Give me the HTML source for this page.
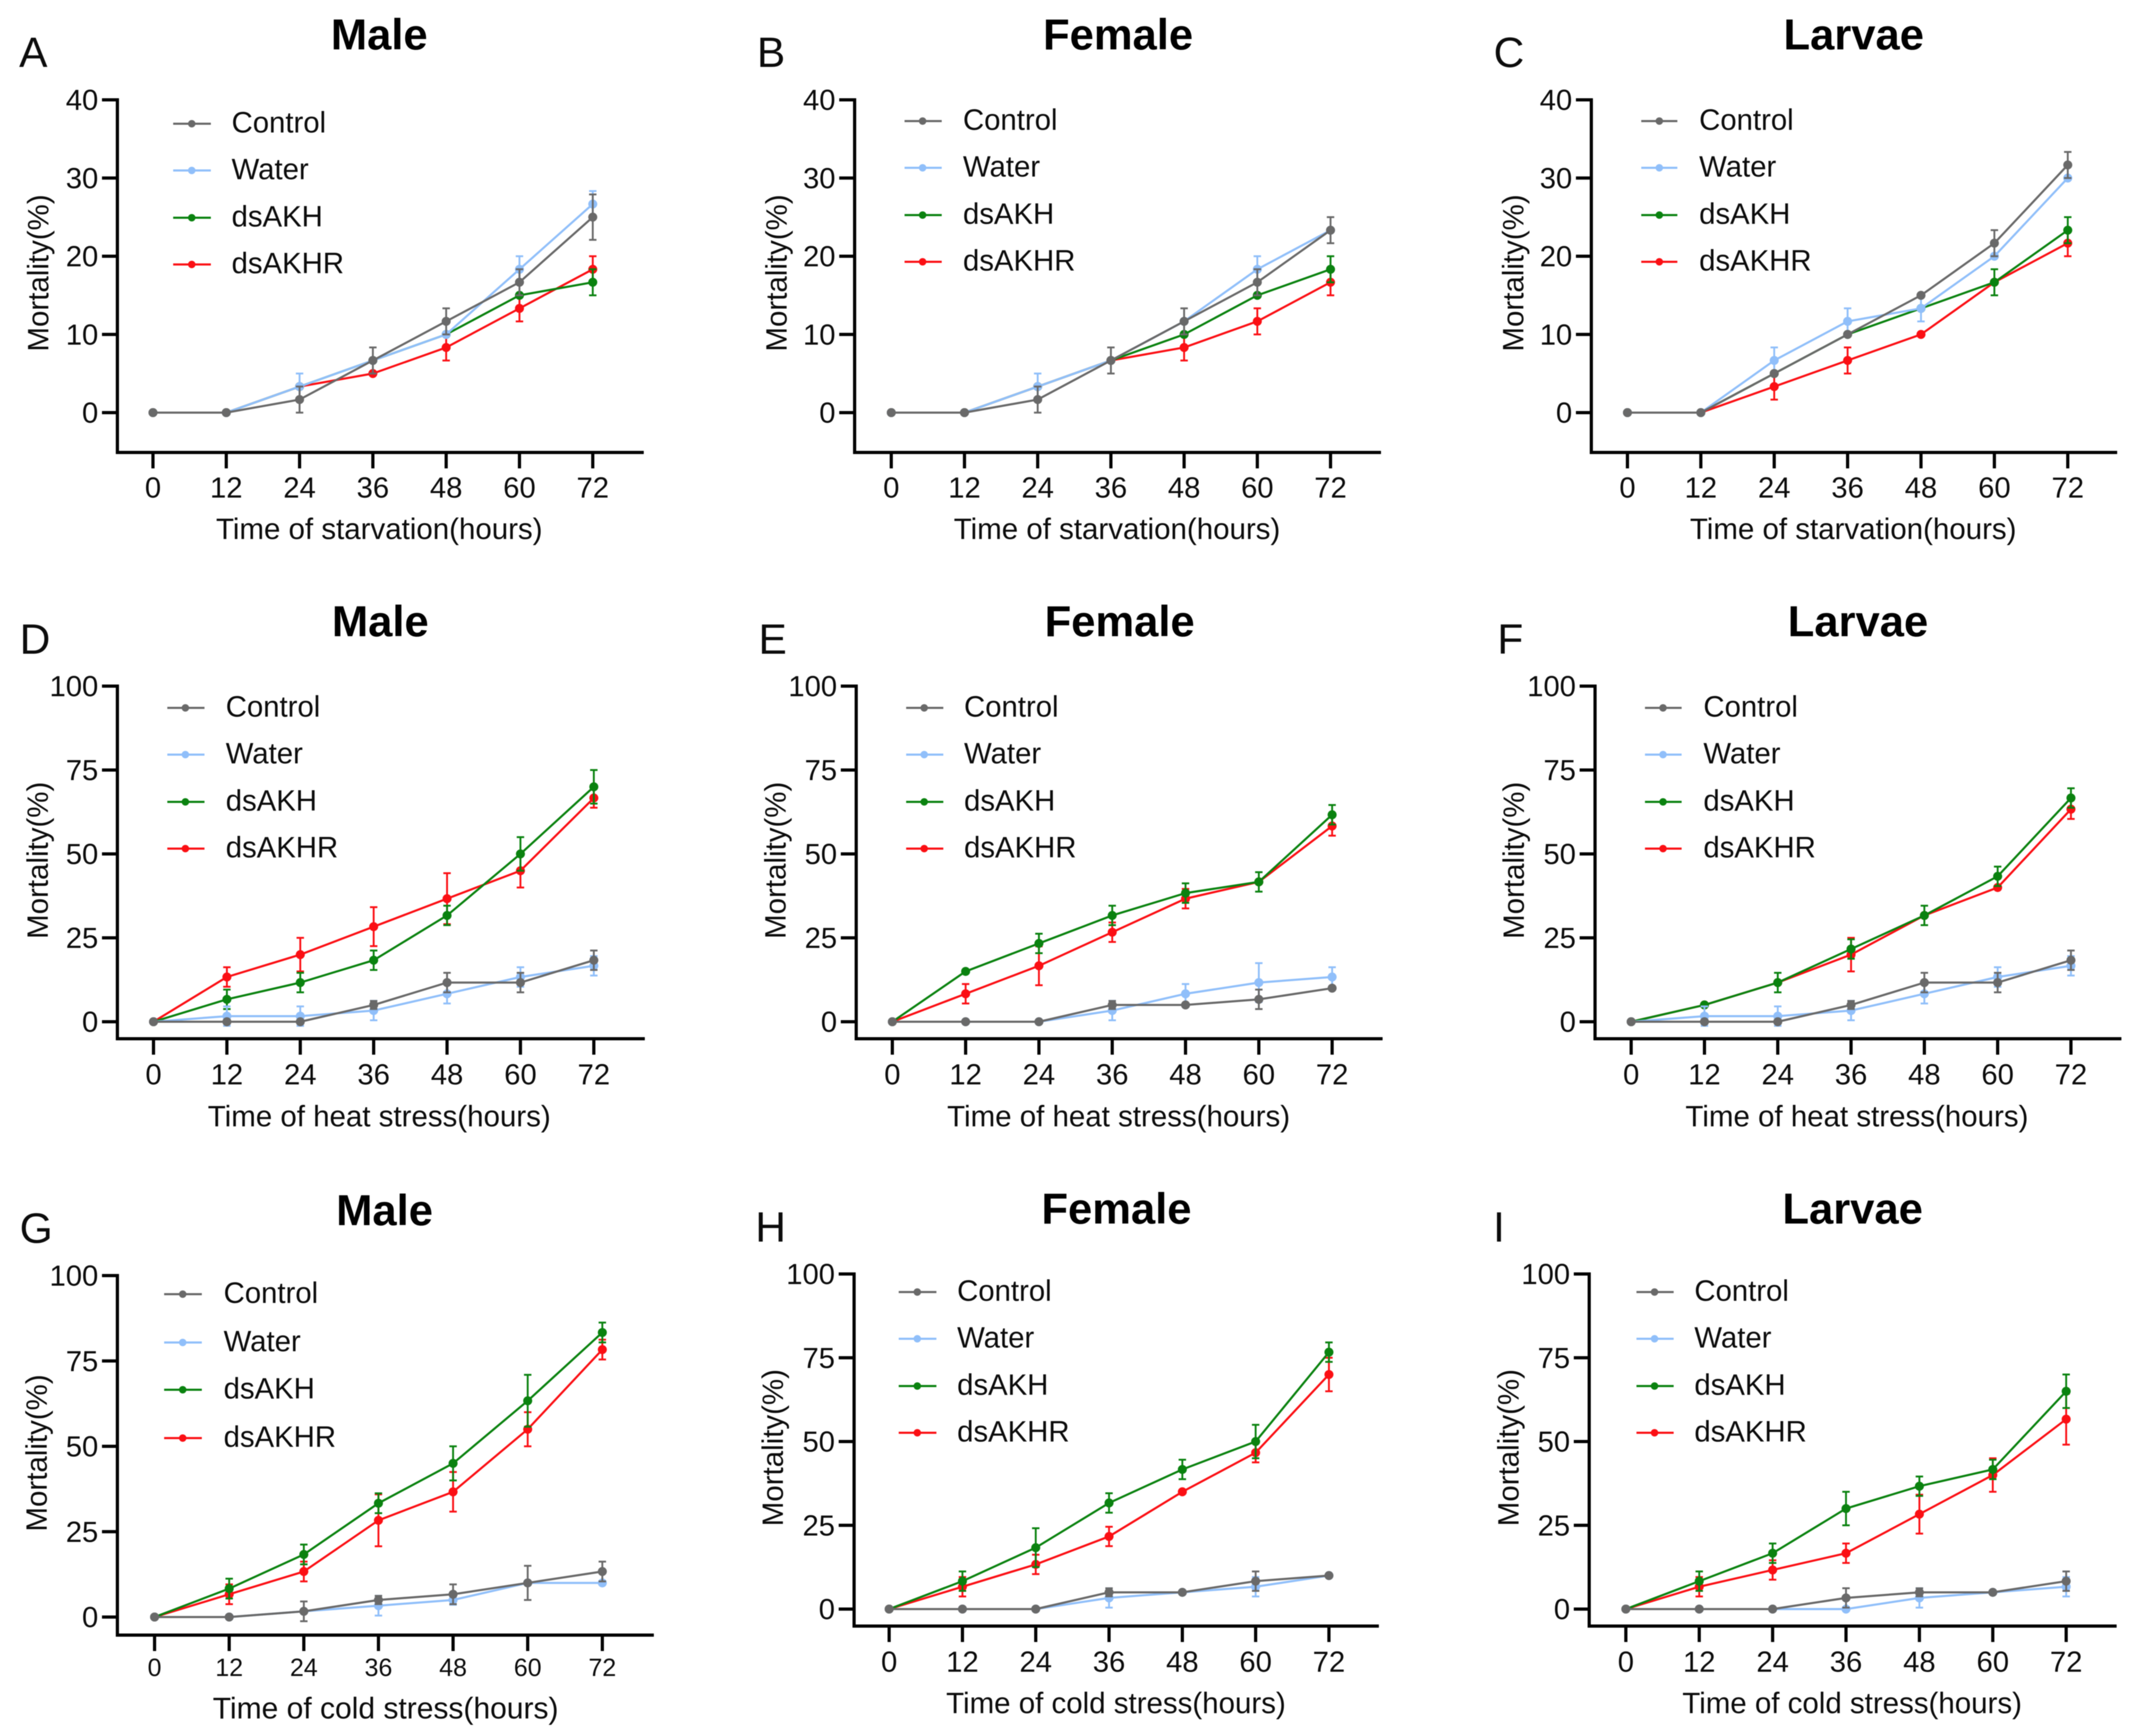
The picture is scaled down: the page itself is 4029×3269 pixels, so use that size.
<!DOCTYPE html>
<html lang="en">
<head>
<meta charset="utf-8">
<title>Mortality of treatment groups under starvation, heat and cold stress</title>
<style>
html,body{margin:0;padding:0;background:#fff;}
svg{display:block;filter:blur(0.8px);}
text{font-family:"Liberation Sans",Arial,sans-serif;fill:#0c0c0c;}
.ttl{font-size:82px;font-weight:700;text-anchor:middle;fill:#000;}
.ltr{font-size:80px;}
.at{font-size:55.5px;text-anchor:middle;}
.lg{font-size:55.2px;transform:translateY(-2.5px);}
.ls{stroke-width:4;}
</style>
</head>
<body>
<svg id="figure" xmlns="http://www.w3.org/2000/svg" width="4029" height="3269" viewBox="0 0 4029 3269">
<rect width="4029" height="3269" fill="#fff"/>

<g id="panel-A">
<text class="ltr" x="36" y="126">A</text>
<text class="ttl" x="714" y="93">Male</text>
<text class="at" x="714" y="1015">Time of starvation(hours)</text>
<text class="at" transform="translate(91,514) rotate(-90)">Mortality(%)</text>
<g><line class="ls" x1="326" x2="397" y1="233" y2="233" stroke="#696969"/><circle cx="361" cy="233" r="7" fill="#696969"/><text class="lg" x="436" y="252">Control</text></g>
<g><line class="ls" x1="326" x2="397" y1="321" y2="321" stroke="#90bffa"/><circle cx="361" cy="321" r="7" fill="#90bffa"/><text class="lg" x="436" y="340">Water</text></g>
<g><line class="ls" x1="326" x2="397" y1="410" y2="410" stroke="#0a820f"/><circle cx="361" cy="410" r="7" fill="#0a820f"/><text class="lg" x="436" y="429">dsAKH</text></g>
<g><line class="ls" x1="326" x2="397" y1="498" y2="498" stroke="#fb0f14"/><circle cx="361" cy="498" r="7" fill="#fb0f14"/><text class="lg" x="436" y="517">dsAKHR</text></g>
</g>

<g id="panel-B">
<text class="ltr" x="1425" y="126">B</text>
<text class="ttl" x="2105" y="93">Female</text>
<text class="at" x="2103" y="1015">Time of starvation(hours)</text>
<text class="at" transform="translate(1481,514) rotate(-90)">Mortality(%)</text>
<g><line class="ls" x1="1703" x2="1773" y1="228" y2="228" stroke="#696969"/><circle cx="1737" cy="228" r="7" fill="#696969"/><text class="lg" x="1813" y="247">Control</text></g>
<g><line class="ls" x1="1703" x2="1773" y1="316" y2="316" stroke="#90bffa"/><circle cx="1737" cy="316" r="7" fill="#90bffa"/><text class="lg" x="1813" y="335">Water</text></g>
<g><line class="ls" x1="1703" x2="1773" y1="405" y2="405" stroke="#0a820f"/><circle cx="1737" cy="405" r="7" fill="#0a820f"/><text class="lg" x="1813" y="424">dsAKH</text></g>
<g><line class="ls" x1="1703" x2="1773" y1="493" y2="493" stroke="#fb0f14"/><circle cx="1737" cy="493" r="7" fill="#fb0f14"/><text class="lg" x="1813" y="512">dsAKHR</text></g>
</g>

<g id="panel-C">
<text class="ltr" x="2812" y="126">C</text>
<text class="ttl" x="3490" y="93">Larvae</text>
<text class="at" x="3489" y="1015">Time of starvation(hours)</text>
<text class="at" transform="translate(2868,514) rotate(-90)">Mortality(%)</text>
<g><line class="ls" x1="3090" x2="3158" y1="228" y2="228" stroke="#696969"/><circle cx="3124" cy="228" r="7" fill="#696969"/><text class="lg" x="3199" y="247">Control</text></g>
<g><line class="ls" x1="3090" x2="3158" y1="316" y2="316" stroke="#90bffa"/><circle cx="3124" cy="316" r="7" fill="#90bffa"/><text class="lg" x="3199" y="335">Water</text></g>
<g><line class="ls" x1="3090" x2="3158" y1="405" y2="405" stroke="#0a820f"/><circle cx="3124" cy="405" r="7" fill="#0a820f"/><text class="lg" x="3199" y="424">dsAKH</text></g>
<g><line class="ls" x1="3090" x2="3158" y1="493" y2="493" stroke="#fb0f14"/><circle cx="3124" cy="493" r="7" fill="#fb0f14"/><text class="lg" x="3199" y="512">dsAKHR</text></g>
</g>

<g id="panel-D">
<text class="ltr" x="37" y="1231">D</text>
<text class="ttl" x="716" y="1198">Male</text>
<text class="at" x="714" y="2121">Time of heat stress(hours)</text>
<text class="at" transform="translate(90,1620) rotate(-90)">Mortality(%)</text>
<g><line class="ls" x1="315" x2="385" y1="1333" y2="1333" stroke="#696969"/><circle cx="349" cy="1333" r="7" fill="#696969"/><text class="lg" x="425" y="1352">Control</text></g>
<g><line class="ls" x1="315" x2="385" y1="1421" y2="1421" stroke="#90bffa"/><circle cx="349" cy="1421" r="7" fill="#90bffa"/><text class="lg" x="425" y="1440">Water</text></g>
<g><line class="ls" x1="315" x2="385" y1="1510" y2="1510" stroke="#0a820f"/><circle cx="349" cy="1510" r="7" fill="#0a820f"/><text class="lg" x="425" y="1529">dsAKH</text></g>
<g><line class="ls" x1="315" x2="385" y1="1598" y2="1598" stroke="#fb0f14"/><circle cx="349" cy="1598" r="7" fill="#fb0f14"/><text class="lg" x="425" y="1617">dsAKHR</text></g>
</g>

<g id="panel-E">
<text class="ltr" x="1428" y="1231">E</text>
<text class="ttl" x="2108" y="1198">Female</text>
<text class="at" x="2106" y="2121">Time of heat stress(hours)</text>
<text class="at" transform="translate(1479,1620) rotate(-90)">Mortality(%)</text>
<g><line class="ls" x1="1706" x2="1776" y1="1333" y2="1333" stroke="#696969"/><circle cx="1740" cy="1333" r="7" fill="#696969"/><text class="lg" x="1815" y="1352">Control</text></g>
<g><line class="ls" x1="1706" x2="1776" y1="1421" y2="1421" stroke="#90bffa"/><circle cx="1740" cy="1421" r="7" fill="#90bffa"/><text class="lg" x="1815" y="1440">Water</text></g>
<g><line class="ls" x1="1706" x2="1776" y1="1510" y2="1510" stroke="#0a820f"/><circle cx="1740" cy="1510" r="7" fill="#0a820f"/><text class="lg" x="1815" y="1529">dsAKH</text></g>
<g><line class="ls" x1="1706" x2="1776" y1="1598" y2="1598" stroke="#fb0f14"/><circle cx="1740" cy="1598" r="7" fill="#fb0f14"/><text class="lg" x="1815" y="1617">dsAKHR</text></g>
</g>

<g id="panel-F">
<text class="ltr" x="2819" y="1231">F</text>
<text class="ttl" x="3498" y="1198">Larvae</text>
<text class="at" x="3496" y="2121">Time of heat stress(hours)</text>
<text class="at" transform="translate(2869,1620) rotate(-90)">Mortality(%)</text>
<g><line class="ls" x1="3097" x2="3166" y1="1333" y2="1333" stroke="#696969"/><circle cx="3131" cy="1333" r="7" fill="#696969"/><text class="lg" x="3207" y="1352">Control</text></g>
<g><line class="ls" x1="3097" x2="3166" y1="1421" y2="1421" stroke="#90bffa"/><circle cx="3131" cy="1421" r="7" fill="#90bffa"/><text class="lg" x="3207" y="1440">Water</text></g>
<g><line class="ls" x1="3097" x2="3166" y1="1510" y2="1510" stroke="#0a820f"/><circle cx="3131" cy="1510" r="7" fill="#0a820f"/><text class="lg" x="3207" y="1529">dsAKH</text></g>
<g><line class="ls" x1="3097" x2="3166" y1="1598" y2="1598" stroke="#fb0f14"/><circle cx="3131" cy="1598" r="7" fill="#fb0f14"/><text class="lg" x="3207" y="1617">dsAKHR</text></g>
</g>

<g id="panel-G">
<text class="ltr" x="37" y="2340">G</text>
<text class="ttl" x="724" y="2307">Male</text>
<text class="at" style="font-size:56.5px" x="726" y="3236">Time of cold stress(hours)</text>
<text class="at" transform="translate(88,2736) rotate(-90)">Mortality(%)</text>
<g><line class="ls" x1="309" x2="380" y1="2437" y2="2437" stroke="#696969"/><circle cx="344" cy="2437" r="7" fill="#696969"/><text class="lg" x="421" y="2456">Control</text></g>
<g><line class="ls" x1="309" x2="380" y1="2528" y2="2528" stroke="#90bffa"/><circle cx="344" cy="2528" r="7" fill="#90bffa"/><text class="lg" x="421" y="2547">Water</text></g>
<g><line class="ls" x1="309" x2="380" y1="2617" y2="2617" stroke="#0a820f"/><circle cx="344" cy="2617" r="7" fill="#0a820f"/><text class="lg" x="421" y="2636">dsAKH</text></g>
<g><line class="ls" x1="309" x2="380" y1="2708" y2="2708" stroke="#fb0f14"/><circle cx="344" cy="2708" r="7" fill="#fb0f14"/><text class="lg" x="421" y="2727">dsAKHR</text></g>
</g>

<g id="panel-H">
<text class="ltr" x="1422" y="2338">H</text>
<text class="ttl" x="2102" y="2304">Female</text>
<text class="at" x="2101" y="3226">Time of cold stress(hours)</text>
<text class="at" transform="translate(1474,2726) rotate(-90)">Mortality(%)</text>
<g><line class="ls" x1="1692" x2="1763" y1="2433" y2="2433" stroke="#696969"/><circle cx="1727" cy="2433" r="7" fill="#696969"/><text class="lg" x="1802" y="2452">Control</text></g>
<g><line class="ls" x1="1692" x2="1763" y1="2521" y2="2521" stroke="#90bffa"/><circle cx="1727" cy="2521" r="7" fill="#90bffa"/><text class="lg" x="1802" y="2540">Water</text></g>
<g><line class="ls" x1="1692" x2="1763" y1="2610" y2="2610" stroke="#0a820f"/><circle cx="1727" cy="2610" r="7" fill="#0a820f"/><text class="lg" x="1802" y="2629">dsAKH</text></g>
<g><line class="ls" x1="1692" x2="1763" y1="2698" y2="2698" stroke="#fb0f14"/><circle cx="1727" cy="2698" r="7" fill="#fb0f14"/><text class="lg" x="1802" y="2717">dsAKHR</text></g>
</g>

<g id="panel-I">
<text class="ltr" x="2811" y="2338">I</text>
<text class="ttl" x="3488" y="2304">Larvae</text>
<text class="at" x="3487" y="3226">Time of cold stress(hours)</text>
<text class="at" transform="translate(2859,2726) rotate(-90)">Mortality(%)</text>
<g><line class="ls" x1="3081" x2="3151" y1="2433" y2="2433" stroke="#696969"/><circle cx="3115" cy="2433" r="7" fill="#696969"/><text class="lg" x="3190" y="2452">Control</text></g>
<g><line class="ls" x1="3081" x2="3151" y1="2521" y2="2521" stroke="#90bffa"/><circle cx="3115" cy="2521" r="7" fill="#90bffa"/><text class="lg" x="3190" y="2540">Water</text></g>
<g><line class="ls" x1="3081" x2="3151" y1="2610" y2="2610" stroke="#0a820f"/><circle cx="3115" cy="2610" r="7" fill="#0a820f"/><text class="lg" x="3190" y="2629">dsAKH</text></g>
<g><line class="ls" x1="3081" x2="3151" y1="2698" y2="2698" stroke="#fb0f14"/><circle cx="3115" cy="2698" r="7" fill="#fb0f14"/><text class="lg" x="3190" y="2717">dsAKHR</text></g>
</g>
</svg>

<script>
// Categories and tick labels
const hours = [0, 12, 24, 36, 48, 60, 72];
const starvationTicks = [0, 10, 20, 30, 40];
const stressTicks = [0, 25, 50, 75, 100];

// Panel A - Male, starvation
const aControl = [0, 0, 1.67, 6.67, 11.67, 16.67, 25];
const aControlErr = [0, 0, 1.67, 1.67, 1.67, 1.67, 2.9];
const aWater = [0, 0, 3.33, 6.67, 10, 18.33, 26.67];
const aWaterErr = [0, 0, 1.67, 0, 0, 1.67, 1.67];
const aAkh = [0, 0, 3.33, 6.67, 10, 15, 16.67];
const aAkhErr = [0, 0, 0, 0, 0, 0, 1.67];
const aAkhr = [0, 0, 3.33, 5, 8.33, 13.33, 18.33];
const aAkhrErr = [0, 0, 0, 0, 1.67, 1.67, 1.67];

// Panel B - Female, starvation
const bControl = [0, 0, 1.67, 6.67, 11.67, 16.67, 23.33];
const bControlErr = [0, 0, 1.67, 1.67, 1.67, 1.67, 1.67];
const bWater = [0, 0, 3.33, 6.67, 11.67, 18.33, 23.33];
const bWaterErr = [0, 0, 1.67, 0, 0, 1.67, 0];
const bAkh = [0, 0, 3.33, 6.67, 10, 15, 18.33];
const bAkhErr = [0, 0, 0, 0, 0, 0, 1.67];
const bAkhr = [0, 0, 3.33, 6.67, 8.33, 11.67, 16.67];
const bAkhrErr = [0, 0, 0, 0, 1.67, 1.67, 1.67];

// Panel C - Larvae, starvation
const cControl = [0, 0, 5, 10, 15, 21.67, 31.67];
const cControlErr = [0, 0, 0, 0, 0, 1.67, 1.67];
const cWater = [0, 0, 6.67, 11.67, 13.33, 20, 30];
const cWaterErr = [0, 0, 1.67, 1.67, 1.67, 0, 0];
const cAkh = [0, 0, 5, 10, 13.33, 16.67, 23.33];
const cAkhErr = [0, 0, 0, 0, 0, 1.67, 1.67];
const cAkhr = [0, 0, 3.33, 6.67, 10, 16.67, 21.67];
const cAkhrErr = [0, 0, 1.67, 1.67, 0, 0, 1.67];

// Panel D - Male, heat
const dControl = [0, 0, 0, 5, 11.67, 11.67, 18.33];
const dControlErr = [0, 0, 0, 1.2, 2.9, 2.9, 2.9];
const dWater = [0, 1.67, 1.67, 3.33, 8.33, 13.33, 16.67];
const dWaterErr = [0, 2.9, 2.9, 2.9, 2.9, 2.9, 2.9];
const dAkh = [0, 6.67, 11.67, 18.33, 31.67, 50, 70];
const dAkhErr = [0, 2.9, 2.9, 2.9, 2.9, 5, 5];
const dAkhr = [0, 13.33, 20, 28.33, 36.67, 45, 66.67];
const dAkhrErr = [0, 2.9, 5, 5.8, 7.6, 5, 2.9];

// Panel E - Female, heat
const eControl = [0, 0, 0, 5, 5, 6.67, 10];
const eControlErr = [0, 0, 0, 1.2, 0, 2.9, 0];
const eWater = [0, 0, 0, 3.33, 8.33, 11.67, 13.33];
const eWaterErr = [0, 0, 0, 2.9, 2.9, 5.8, 2.9];
const eAkh = [0, 15, 23.33, 31.67, 38.33, 41.67, 61.67];
const eAkhErr = [0, 0, 2.9, 2.9, 2.9, 2.9, 2.9];
const eAkhr = [0, 8.33, 16.67, 26.67, 36.67, 41.67, 58.33];
const eAkhrErr = [0, 2.9, 5.8, 2.9, 2.9, 0, 2.9];

// Panel F - Larvae, heat
const fControl = [0, 0, 0, 5, 11.67, 11.67, 18.33];
const fControlErr = [0, 0, 0, 1.2, 2.9, 2.9, 2.9];
const fWater = [0, 1.67, 1.67, 3.33, 8.33, 13.33, 16.67];
const fWaterErr = [0, 2.9, 2.9, 2.9, 2.9, 2.9, 2.9];
const fAkh = [0, 5, 11.67, 21.67, 31.67, 43.33, 66.67];
const fAkhErr = [0, 0, 2.9, 2.9, 2.9, 2.9, 2.9];
const fAkhr = [0, 5, 11.67, 20, 31.67, 40, 63.33];
const fAkhrErr = [0, 0, 0, 5, 0, 0, 2.9];

// Panel G - Male, cold
const gControl = [0, 0, 1.67, 5, 6.67, 10, 13.33];
const gControlErr = [0, 0, 2.9, 1.2, 2.9, 5, 2.9];
const gWater = [0, 0, 1.67, 3.33, 5, 10, 10];
const gWaterErr = [0, 0, 0, 2.9, 1.4, 0, 0];
const gAkh = [0, 8.33, 18.33, 33.33, 45, 63.33, 83.33];
const gAkhErr = [0, 2.9, 2.9, 2.9, 5, 7.6, 2.9];
const gAkhr = [0, 6.67, 13.33, 28.33, 36.67, 55, 78.33];
const gAkhrErr = [0, 2.9, 2.9, 7.6, 5.8, 5, 2.9];

// Panel H - Female, cold
const hControl = [0, 0, 0, 5, 5, 8.33, 10];
const hControlErr = [0, 0, 0, 1.2, 0, 2.9, 0];
const hWater = [0, 0, 0, 3.33, 5, 6.67, 10];
const hWaterErr = [0, 0, 0, 2.9, 0, 2.9, 0];
const hAkh = [0, 8.33, 18.33, 31.67, 41.67, 50, 76.67];
const hAkhErr = [0, 2.9, 5.8, 2.9, 2.9, 5, 2.9];
const hAkhr = [0, 6.67, 13.33, 21.67, 35, 46.67, 70];
const hAkhrErr = [0, 2.9, 2.9, 2.9, 0, 2.9, 5];

// Panel I - Larvae, cold
const iControl = [0, 0, 0, 3.33, 5, 5, 8.33];
const iControlErr = [0, 0, 0, 2.9, 1.2, 0, 2.9];
const iWater = [0, 0, 0, 0, 3.33, 5, 6.67];
const iWaterErr = [0, 0, 0, 0, 2.9, 0, 2.9];
const iAkh = [0, 8.33, 16.67, 30, 36.67, 41.67, 65];
const iAkhErr = [0, 2.9, 2.9, 5, 2.9, 2.9, 5];
const iAkhr = [0, 6.67, 11.67, 16.67, 28.33, 40, 56.67];
const iAkhrErr = [0, 2.9, 2.9, 2.9, 5.8, 5, 7.6];

const SVGNS = 'http://www.w3.org/2000/svg';
const COLORS = {akhr: '#fb0f14', akh: '#0a820f', water: '#90bffa', control: '#696969'};
const INK = '#000';

function shape(parent, tag, attrs) {
  const node = document.createElementNS(SVGNS, tag);
  Object.keys(attrs).forEach(function (k) { node.setAttribute(k, attrs[k]); });
  parent.appendChild(node);
  return node;
}

function drawSeries(parent, key, panelKey, vals, errs, xs, ys) {
  const g = shape(parent, 'g', {});
  
  
  const color = COLORS[key];
  vals.forEach(function (v, i) {
    const e = errs[i];
    if (!e) return;
    const bar = shape(g, 'path', {
      d: 'M' + (xs(hours[i]) - 7) + ' ' + ys(v + e) + 'H' + (xs(hours[i]) + 7) +
         'M' + xs(hours[i]) + ' ' + ys(v + e) + 'V' + ys(v - e) +
         'M' + (xs(hours[i]) - 7) + ' ' + ys(v - e) + 'H' + (xs(hours[i]) + 7),
      fill: 'none', stroke: color, 'stroke-width': 3.5
    });
    
    
  });
  const line = shape(g, 'polyline', {
    points: vals.map(function (v, i) { return xs(hours[i]) + ',' + ys(v); }).join(' '),
    fill: 'none', stroke: color, 'stroke-width': 4, 'stroke-linejoin': 'round'
  });
  
  
  vals.forEach(function (v, i) {
    const dot = shape(g, 'circle', {cx: xs(hours[i]), cy: ys(v), r: 8.5, fill: color});
    
    
  });
}

function drawPanel(id, layout, yTicks, yMax, control, controlErr, water, waterErr, akh, akhErr, akhr, akhrErr) {
  const parent = document.getElementById('panel-' + id);
  const key = id.toLowerCase();
  const xs = function (h) { return layout.x0 + (layout.x72 - layout.x0) * h / 72; };
  const ys = function (v) { return layout.y0 - (layout.y0 - layout.yTop) * v / yMax; };

  const axes = shape(parent, 'g', {});
  
  

  const yAxis = shape(axes, 'line', {x1: layout.ax, x2: layout.ax, y1: layout.yTop - 3, y2: layout.base + 3, stroke: INK, 'stroke-width': 6});
  
  
  const xAxis = shape(axes, 'line', {x1: layout.ax - 3, x2: layout.end, y1: layout.base, y2: layout.base, stroke: INK, 'stroke-width': 6});
  
  

  yTicks.forEach(function (t) {
    const tick = shape(axes, 'line', {x1: layout.ax - 29, x2: layout.ax, y1: ys(t), y2: ys(t), stroke: INK, 'stroke-width': 6});
    
    
    const lab = shape(axes, 'text', {x: layout.ax - 36, y: ys(t) + 19, 'text-anchor': 'end', 'font-size': 55});
    
    
    lab.textContent = String(t);
  });
  hours.forEach(function (h) {
    const tick = shape(axes, 'line', {x1: xs(h), x2: xs(h), y1: layout.base, y2: layout.base + 30, stroke: INK, 'stroke-width': 6});
    
    
    const lab = shape(axes, 'text', {x: xs(h), y: layout.tickY, 'text-anchor': 'middle', 'font-size': layout.tickFont});
    
    
    lab.textContent = String(h);
  });

  drawSeries(parent, 'akhr', key, akhr, akhrErr, xs, ys);
  drawSeries(parent, 'akh', key, akh, akhErr, xs, ys);
  drawSeries(parent, 'water', key, water, waterErr, xs, ys);
  drawSeries(parent, 'control', key, control, controlErr, xs, ys);
}

drawPanel('A', {ax: 221, end: 1212, x0: 288, x72: 1116, y0: 777, yTop: 188, base: 852, tickY: 937, tickFont: 55}, starvationTicks, 40, aControl, aControlErr, aWater, aWaterErr, aAkh, aAkhErr, aAkhr, aAkhrErr);
drawPanel('B', {ax: 1609, end: 2600, x0: 1678, x72: 2505, y0: 777, yTop: 188, base: 852, tickY: 937, tickFont: 55}, starvationTicks, 40, bControl, bControlErr, bWater, bWaterErr, bAkh, bAkhErr, bAkhr, bAkhrErr);
drawPanel('C', {ax: 2996, end: 3986, x0: 3064, x72: 3893, y0: 777, yTop: 188, base: 852, tickY: 937, tickFont: 55}, starvationTicks, 40, cControl, cControlErr, cWater, cWaterErr, cAkh, cAkhErr, cAkhr, cAkhrErr);
drawPanel('D', {ax: 221, end: 1214, x0: 289, x72: 1118, y0: 1924, yTop: 1292, base: 1956, tickY: 2042, tickFont: 55}, stressTicks, 100, dControl, dControlErr, dWater, dWaterErr, dAkh, dAkhErr, dAkhr, dAkhrErr);
drawPanel('E', {ax: 1612, end: 2603, x0: 1680, x72: 2508, y0: 1924, yTop: 1292, base: 1956, tickY: 2042, tickFont: 55}, stressTicks, 100, eControl, eControlErr, eWater, eWaterErr, eAkh, eAkhErr, eAkhr, eAkhrErr);
drawPanel('F', {ax: 3003, end: 3994, x0: 3071, x72: 3899, y0: 1924, yTop: 1292, base: 1956, tickY: 2042, tickFont: 55}, stressTicks, 100, fControl, fControlErr, fWater, fWaterErr, fAkh, fAkhErr, fAkhr, fAkhrErr);
drawPanel('G', {ax: 221, end: 1231, x0: 291, x72: 1134, y0: 3045, yTop: 2402, base: 3079, tickY: 3156, tickFont: 47}, stressTicks, 100, gControl, gControlErr, gWater, gWaterErr, gAkh, gAkhErr, gAkhr, gAkhrErr);
drawPanel('H', {ax: 1608, end: 2596, x0: 1674, x72: 2502, y0: 3030, yTop: 2399, base: 3062, tickY: 3148, tickFont: 55}, stressTicks, 100, hControl, hControlErr, hWater, hWaterErr, hAkh, hAkhErr, hAkhr, hAkhrErr);
drawPanel('I', {ax: 2992, end: 3985, x0: 3061, x72: 3890, y0: 3030, yTop: 2399, base: 3062, tickY: 3148, tickFont: 55}, stressTicks, 100, iControl, iControlErr, iWater, iWaterErr, iAkh, iAkhErr, iAkhr, iAkhrErr);
</script>
</body>
</html>
